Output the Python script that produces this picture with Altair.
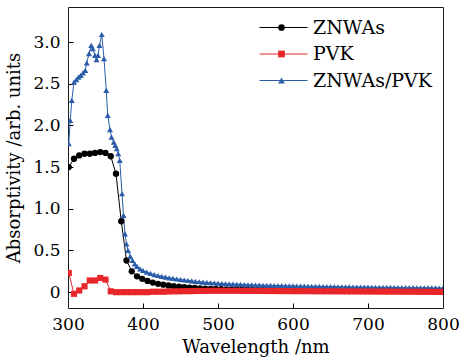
import altair as alt
import pandas as pd

series_names = ["ZNWAs", "PVK", "ZNWAs/PVK"]
series_colors = ["#000000", "#e8262a", "#2a5caa"]
series_shapes = ["circle", "square", "triangle-up"]

# ZNWAs (black circles)
wl_znwas = [301, 308, 315, 322, 329, 336, 343, 350, 357, 364, 371, 378, 385, 392, 399, 406, 413, 420,
            427, 434, 441, 448, 455, 462, 469, 476, 483, 490, 497, 504, 511, 518, 525, 532, 539, 546,
            553, 560, 567, 574, 581, 588, 595, 602, 609, 616, 623, 630, 637, 644, 651, 658, 665, 672,
            679, 686, 693, 700, 707, 714, 721, 728, 735, 742, 749, 756, 763, 770, 777, 784, 791, 798]
abs_znwas = [1.50, 1.60, 1.64, 1.66, 1.66, 1.67, 1.68, 1.67, 1.63, 1.42, 0.85, 0.38, 0.25, 0.19, 0.16, 0.135, 0.115, 0.10,
             0.09, 0.08, 0.072, 0.066, 0.06, 0.055, 0.05, 0.046, 0.043, 0.04, 0.038, 0.036, 0.034, 0.032, 0.031, 0.030, 0.029, 0.028,
             0.027, 0.026, 0.025, 0.025, 0.024, 0.023, 0.023, 0.022, 0.022, 0.021, 0.021, 0.020, 0.020, 0.020, 0.019, 0.019, 0.019, 0.018,
             0.018, 0.018, 0.017, 0.017, 0.017, 0.016, 0.016, 0.016, 0.016, 0.015, 0.015, 0.015, 0.015, 0.014, 0.014, 0.014, 0.014, 0.013]

# PVK (red squares)
wl_pvk = list(wl_znwas)
abs_pvk = [0.23, -0.02, 0.02, 0.07, 0.14, 0.14, 0.17, 0.15, 0.01, 0.00, 0.00, 0.00, 0.00, 0.00, 0.00, 0.00, 0.005, 0.005,
           0.005, 0.008, 0.010, 0.010, 0.012, 0.012, 0.014, 0.015, 0.015, 0.016, 0.016, 0.016, 0.016, 0.016, 0.016, 0.015, 0.015, 0.015,
           0.015, 0.014, 0.014, 0.014, 0.013, 0.013, 0.013, 0.012, 0.012, 0.012, 0.011, 0.011, 0.011, 0.010, 0.010, 0.010, 0.009, 0.009,
           0.009, 0.008, 0.008, 0.008, 0.007, 0.007, 0.007, 0.006, 0.006, 0.006, 0.005, 0.005, 0.005, 0.004, 0.004, 0.004, 0.003, 0.003]

# ZNWAs/PVK (blue triangles)
wl_mix = [301, 303, 305, 308, 311, 314, 317, 320, 323, 325, 328, 331, 333, 336, 338, 340, 342, 345, 348, 351,
          353, 356, 358, 361, 363, 365, 367, 369, 372, 374, 376, 378, 380, 383, 386, 389,
          392, 396, 400, 405, 410, 415, 420, 425, 430, 435, 440, 445, 450, 455, 460, 465, 470, 475, 480,
          485, 490, 495, 500, 505, 510, 515, 520, 525, 530, 535, 540, 545, 550, 555, 560, 565, 570, 575,
          580, 585, 590, 595, 600, 605, 610, 615, 620, 625, 630, 635, 640, 645, 650, 655, 660, 665, 670,
          675, 680, 685, 690, 695, 700, 705, 710, 715, 720, 725, 730, 735, 740, 745, 750, 755, 760, 765,
          770, 775, 780, 785, 790, 795, 800]
abs_mix = [1.78, 2.06, 2.30, 2.52, 2.55, 2.58, 2.60, 2.63, 2.66, 2.75, 2.86, 2.96, 2.92, 2.84, 2.79, 2.84, 2.96, 3.09, 2.80, 2.42,
           2.12, 1.95, 1.86, 1.80, 1.76, 1.72, 1.66, 1.58, 1.18, 0.92, 0.70, 0.58, 0.50, 0.43, 0.38, 0.34,
           0.31, 0.28, 0.26, 0.24, 0.225, 0.21, 0.20, 0.19, 0.18, 0.172, 0.165, 0.158, 0.152, 0.146, 0.14, 0.135, 0.13, 0.125, 0.121,
           0.117, 0.113, 0.11, 0.107, 0.104, 0.101, 0.099, 0.097, 0.095, 0.093, 0.091, 0.089, 0.088, 0.086, 0.085, 0.083, 0.082, 0.081, 0.080,
           0.079, 0.078, 0.077, 0.076, 0.075, 0.074, 0.073, 0.072, 0.071, 0.070, 0.070, 0.069, 0.068, 0.067, 0.066, 0.066, 0.065, 0.064, 0.064,
           0.063, 0.062, 0.062, 0.061, 0.060, 0.060, 0.059, 0.059, 0.058, 0.058, 0.057, 0.057, 0.056, 0.056, 0.055, 0.055, 0.054, 0.054, 0.053,
           0.053, 0.052, 0.052, 0.051, 0.051, 0.050, 0.050]

x_ticks = [300, 400, 500, 600, 700, 800]
x_inner_ticks = [400, 500, 600, 700]
y_ticks = [0, 0.5, 1.0, 1.5, 2.0, 2.5, 3.0]

rows = []
for name, wls, vals in [("ZNWAs", wl_znwas, abs_znwas), ("ZNWAs/PVK", wl_mix, abs_mix), ("PVK", wl_pvk, abs_pvk)]:
    for w, v in zip(wls, vals):
        rows.append({"series": name, "series_p": name + " ", "series_s": name + "  ", "wl": w, "val": v})
df = pd.DataFrame(rows)

FONT = "DejaVu Serif"
W, H = 375, 301
X_TITLE = "Wavelength /nm"
Y_TITLE = "Absorptivity /arb. units"

X_DOMAIN = [300, 800]
Y_DOMAIN = [-0.19, 3.42]
label_expr = "datum.value == 0 ? '0' : format(datum.value, '.1f')"

# lines (with the labelled axes and the line part of the legend)
lines = alt.Chart(df).mark_line(strokeWidth=1, clip=True).encode(
    x=alt.X("wl:Q", scale=alt.Scale(domain=X_DOMAIN, nice=False, zero=False), title=X_TITLE, axis=alt.Axis(
        orient="bottom", values=x_ticks, ticks=False, domain=False, grid=False, labelFlush=False,
        labelFont=FONT, labelFontSize=17, labelPadding=8, labelColor="black",
        titleFont=FONT, titleFontSize=18, titleFontWeight="normal", titleColor="black", titlePadding=6)),
    y=alt.Y("val:Q", scale=alt.Scale(domain=Y_DOMAIN, nice=False, zero=False), title=Y_TITLE, axis=alt.Axis(
        orient="left", values=y_ticks, labelExpr=label_expr, ticks=False, domain=False, grid=False,
        labelFlush=False, labelFont=FONT, labelFontSize=17, labelPadding=8, labelColor="black",
        titleFont=FONT, titleFontSize=18, titleFontWeight="normal", titleColor="black", titlePadding=9)),
    stroke=alt.Stroke("series:N", scale=alt.Scale(domain=series_names, range=series_colors),
                      legend=alt.Legend(title=None, orient="none", legendX=206, legendY=11,
                                        symbolType="M-8,0H8", symbolSize=36, symbolStrokeWidth=1.2,
                                        labelFont=FONT, labelFontSize=19, labelColor="black",
                                        labelOffset=20, rowPadding=6.5, padding=0)),
)

# markers (with inward tick axes and the marker part of the legend)
points = alt.Chart(df).mark_point(filled=True, opacity=1, clip=True).encode(
    x=alt.X("wl:Q", scale=alt.Scale(domain=X_DOMAIN, nice=False, zero=False), axis=alt.Axis(
        orient="top", offset=-H, values=x_inner_ticks, labels=False, domain=False, grid=False,
        ticks=True, tickSize=5, tickColor="black", tickWidth=1, title=None)),
    y=alt.Y("val:Q", scale=alt.Scale(domain=Y_DOMAIN, nice=False, zero=False), axis=alt.Axis(
        orient="right", offset=-W, values=y_ticks, labels=False, domain=False, grid=False,
        ticks=True, tickSize=5, tickColor="black", tickWidth=1, title=None)),
    fill=alt.Fill("series_p:N", scale=alt.Scale(domain=[n + " " for n in series_names], range=series_colors),
                  legend=alt.Legend(title=None, orient="none", legendX=204, legendY=11,
                                    symbolSize=45, symbolStrokeWidth=0,
                                    labelFont=FONT, labelFontSize=19, labelColor="transparent",
                                    rowPadding=6.5, padding=0)),
    shape=alt.Shape("series_p:N", scale=alt.Scale(domain=[n + " " for n in series_names], range=series_shapes)),
    size=alt.Size("series_s:N", scale=alt.Scale(domain=[n + "  " for n in series_names], range=[40, 36, 55]), legend=None),
)

chart = alt.layer(lines, points).resolve_scale(
    x="independent", y="independent"
).resolve_axis(x="independent", y="independent").properties(
    width=W, height=H,
    padding={"left": 68, "top": 7, "right": 18, "bottom": 51},
    autosize=alt.AutoSizeParams(type="none"),
    background="white",
).configure_view(stroke="#1a1a1a", strokeWidth=1)

chart.save("out.html", embed_options={"renderer": "svg", "actions": False})
